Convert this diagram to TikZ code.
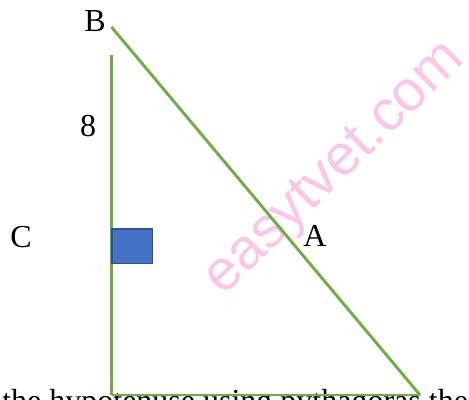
\documentclass[tikz,border=0pt]{standalone}
\usepackage{fontspec}
\setmainfont{Liberation Serif}
\newfontfamily\markfont{Liberation Sans}
\usetikzlibrary{positioning}
\definecolor{sidegreen}{HTML}{70AD47}
\definecolor{boxblue}{HTML}{4472C4}
\definecolor{boxedge}{HTML}{2F528F}
\begin{document}
\begin{tikzpicture}[
    x=0.75pt, y=-0.75pt, % one unit is one pixel of the picture
    every node/.style={font=\fontsize{24}{29}\selectfont, inner sep=0pt},
    side/.style={draw=sidegreen, line width=2.2pt},
    anglebox/.style={draw=boxedge, fill=boxblue, line width=1.2pt}
]
    \useasboundingbox (0,0) rectangle (469,400);
    \clip (0,0) rectangle (469,400);

    % watermark and the line of text under the picture
    \node (mark) [rotate=44, text=magenta!22, font=\markfont\fontsize{43}{50}\selectfont]
        at (336,170) {easytvet.com};
    \node (caption) [anchor=base west] at (2,411) {the hypotenuse using pythagoras the};

    % Place the corners
    \coordinate (top) at (111.5,27);
    \coordinate (bend) at (111.5,55);
    \coordinate (foot) at (111.5,395);
    \coordinate (tip) at (420,395);

    % Draw the sides
    \draw [side] (foot) -- (bend);
    \draw [side] (top) -- (tip);
    \draw [side] (foot) -- (tip);

    % right-angle mark
    \node (box) [anglebox, minimum width=30.5pt, minimum height=26pt, anchor=north west] at (111,228) {};

    % Place the labels
    \node (b) at (95,21) {B};
    \node (eight) at (88,126) {8};
    \node (c) at (21,237) {C};
    \node (a) at (315,236) {A};
\end{tikzpicture}
\end{document}
